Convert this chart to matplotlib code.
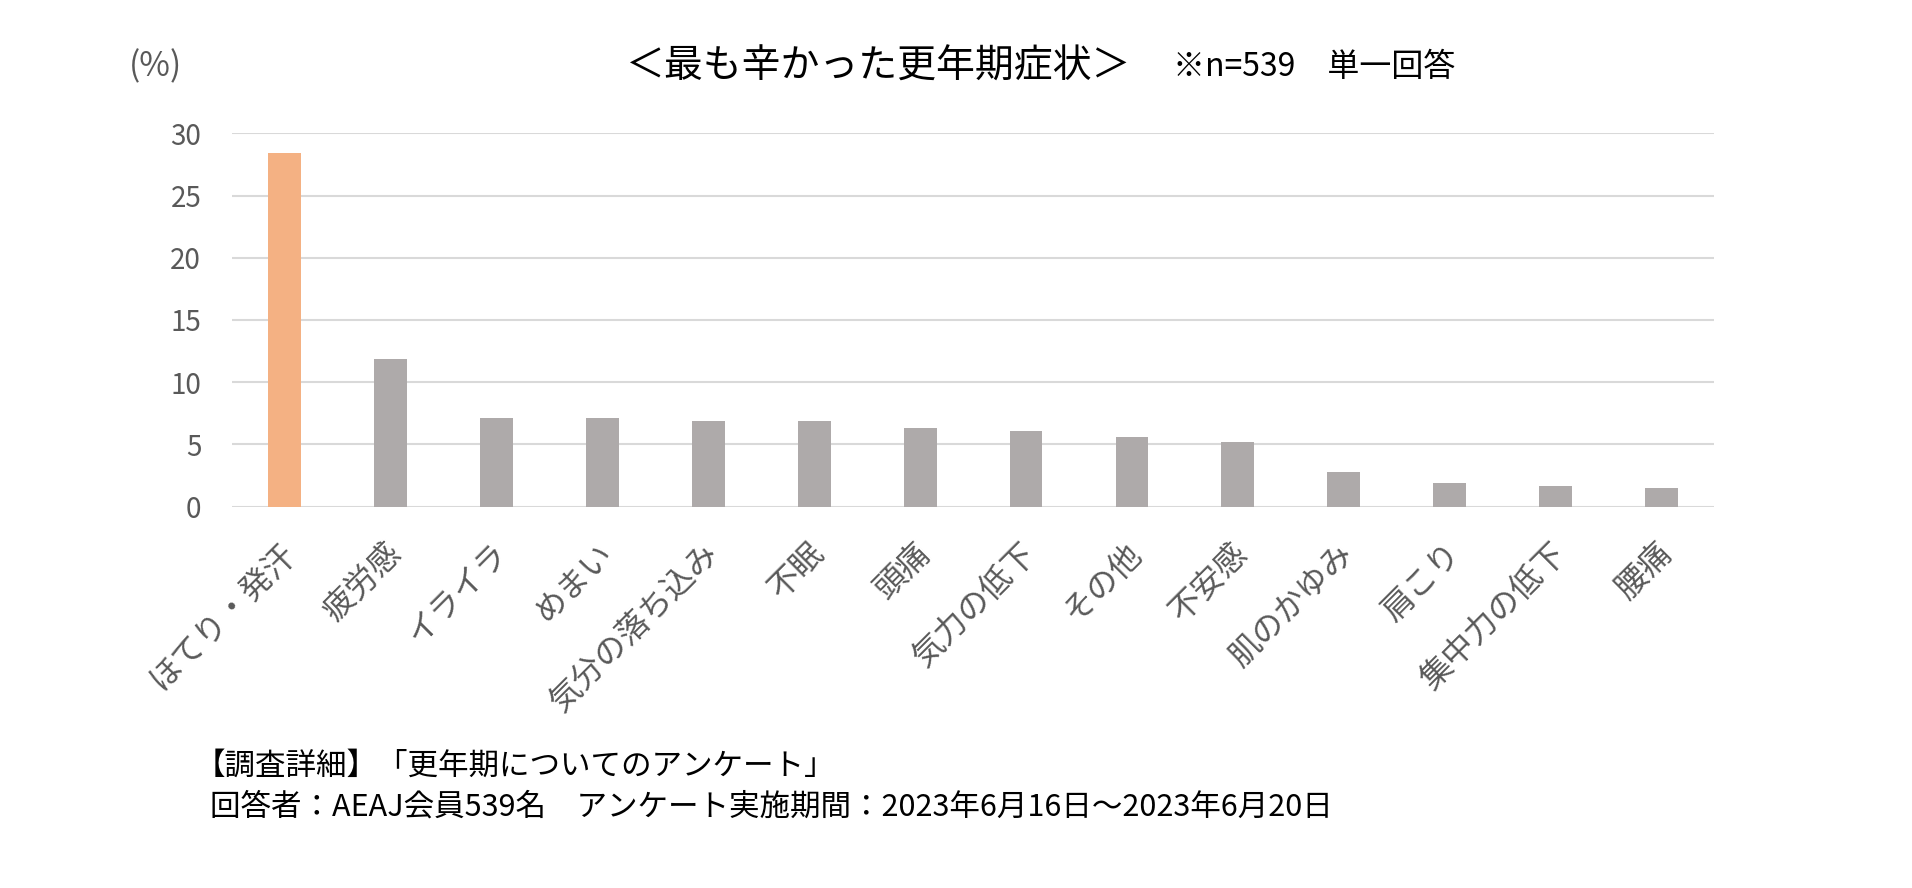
import numpy as np
import matplotlib.pyplot as plt
from matplotlib.transforms import ScaledTranslation

plt.rcParams['font.family'] = ['Noto Sans CJK JP', 'DejaVu Sans']

# data (percent of n=539, single answer)
symptoms = ["ほてり・発汗", "疲労感", "イライラ", "めまい", "気分の落ち込み", "不眠", "頭痛",
            "気力の低下", "その他", "不安感", "肌のかゆみ", "肩こり", "集中力の低下", "腰痛"]
percents = [28.4, 11.9, 7.1, 7.1, 6.9, 6.9, 6.3, 6.1, 5.6, 5.2, 2.8, 1.9, 1.7, 1.5]
yticks = [0, 5, 10, 15, 20, 25, 30]

highlight = "#F4B183"
base = "#AEAAAA"
txt_gray = "#595959"

fig = plt.figure(figsize=(19.12, 8.88), dpi=100)
ax = fig.add_axes([0.1212, 0.4294, 0.7755, 0.4205])

x = np.arange(len(symptoms))
colors = [highlight if i == 0 else base for i in range(len(symptoms))]
ax.bar(x, percents, width=0.31, color=colors, zorder=3)

ax.set_xlim(-0.5, len(symptoms) - 0.5)
ax.set_ylim(0, 30)
ax.set_yticks(yticks)
ax.yaxis.grid(True, color="#D9D9D9", linewidth=1.5, zorder=0)
ax.set_axisbelow(True)
for s in ax.spines.values():
    s.set_visible(False)
ax.tick_params(axis="y", length=0, pad=22, labelsize=20, labelcolor=txt_gray)
ax.tick_params(axis="x", length=0, pad=30, labelsize=23, labelcolor=txt_gray)

ax.set_xticks(x)
ax.set_xticklabels(symptoms, rotation=45, ha="right", va="center", rotation_mode="anchor")
offset = ScaledTranslation(4 / 72, 0, fig.dpi_scale_trans)
for lab in ax.get_xticklabels():
    lab.set_transform(lab.get_transform() + offset)

fig.text(156 / 1912, 1 - 67 / 888, "(%)", fontsize=24, color=txt_gray, ha="center", va="center")
fig.text(626 / 1912, 1 - 67 / 888, "＜最も辛かった更年期症状＞",
         fontsize=28, color="black", ha="left", va="center")
fig.text(1173 / 1912, 1 - 67 / 888, "※n=539　単一回答",
         fontsize=23, color="black", ha="left", va="center")

fig.text(195 / 1912, 1 - 766 / 888, "【調査詳細】「更年期についてのアンケート」",
         fontsize=22, color="black", ha="left", va="center")
fig.text(210 / 1912, 1 - 807 / 888,
         "回答者：AEAJ会員539名　アンケート実施期間：2023年6月16日～2023年6月20日",
         fontsize=22, color="black", ha="left", va="center")

fig.savefig("out.png", dpi=100)
